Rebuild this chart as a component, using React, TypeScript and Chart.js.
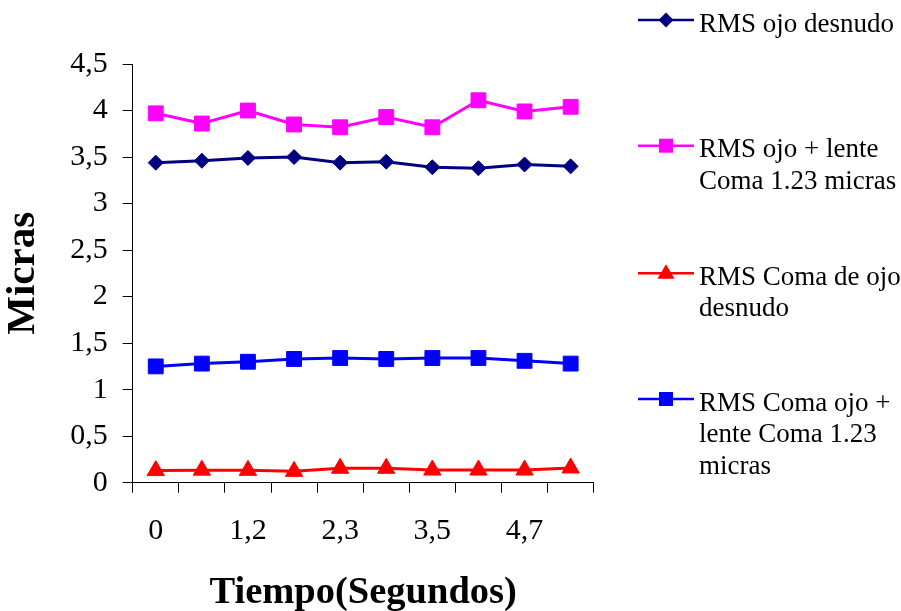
import React, { useEffect, useRef } from "react";
import { Chart, registerables } from "chart.js";

Chart.register(...registerables);

const categories = ["0", "0,6", "1,2", "1,8", "2,3", "2,9", "3,5", "4,1", "4,7", "5,3"];
const rmsOjoDesnudo = [3.44, 3.46, 3.49, 3.5, 3.44, 3.45, 3.39, 3.38, 3.42, 3.4];
const rmsOjoLente = [3.97, 3.86, 4.0, 3.85, 3.82, 3.93, 3.82, 4.11, 3.99, 4.04];
const rmsComaOjoDesnudo = [0.13, 0.135, 0.133, 0.122, 0.155, 0.155, 0.136, 0.136, 0.136, 0.158];
const rmsComaOjoLente = [1.25, 1.28, 1.3, 1.33, 1.34, 1.33, 1.34, 1.34, 1.31, 1.28];
const seriesLabels = [
  "RMS ojo desnudo",
  "RMS ojo + lente Coma 1.23 micras",
  "RMS Coma de ojo desnudo",
  "RMS Coma ojo + lente Coma 1.23 micras",
];
const legendLines = [
  ["RMS ojo desnudo"],
  ["RMS ojo + lente", "Coma 1.23 micras"],
  ["RMS Coma de ojo", "desnudo"],
  ["RMS Coma ojo +", "lente Coma 1.23", "micras"],
];
const yTitle = "Micras";
const xTitle = "Tiempo(Segundos)";

const FONT = '"Liberation Serif", "Times New Roman", serif';

const legendPlugin = {
  id: "customLegend",
  afterDraw(chart: any) {
    const ctx = chart.ctx as CanvasRenderingContext2D;
    const ys = [20, 145.7, 273.3, 399];
    const x0 = 638;
    const x1 = 694;
    const mx = 666;
    chart.data.datasets.forEach((ds: any, i: number) => {
      const y = ys[i];
      const color = ds.borderColor;
      ctx.save();
      ctx.strokeStyle = color;
      ctx.fillStyle = color;
      ctx.lineWidth = 2.5;
      ctx.beginPath();
      ctx.moveTo(x0, y);
      ctx.lineTo(x1, y);
      ctx.stroke();
      ctx.beginPath();
      if (ds.pointStyle === "rectRot") {
        const r = 7.5;
        ctx.moveTo(mx - r, y);
        ctx.lineTo(mx, y - r);
        ctx.lineTo(mx + r, y);
        ctx.lineTo(mx, y + r);
        ctx.closePath();
      } else if (ds.pointStyle === "triangle") {
        const r = 9;
        ctx.moveTo(mx, y - r);
        ctx.lineTo(mx + r * 0.95, y + r * 0.6);
        ctx.lineTo(mx - r * 0.95, y + r * 0.6);
        ctx.closePath();
      } else {
        const s = 7;
        ctx.rect(mx - s, y - s, 2 * s, 2 * s);
      }
      ctx.fill();
      ctx.fillStyle = "#000";
      ctx.font = `27px ${FONT}`;
      ctx.textAlign = "left";
      ctx.textBaseline = "alphabetic";
      legendLines[i].forEach((line, k) => {
        ctx.fillText(line, 699, y + 11.5 + k * 31.5);
      });
      ctx.restore();
    });
  },
};

export default function App() {
  const ref = useRef<HTMLCanvasElement>(null);
  useEffect(() => {
    if (!ref.current) return;
    const common = {
      borderWidth: 3,
      pointBorderWidth: 1,
      tension: 0,
      fill: false,
    };
    const chart = new Chart(ref.current, {
      type: "line",
      data: {
        labels: categories,
        datasets: [
          {
            ...common,
            label: seriesLabels[0],
            data: rmsOjoDesnudo,
            borderColor: "#000080",
            backgroundColor: "#000080",
            pointBackgroundColor: "#000080",
            pointStyle: "rectRot",
            pointRadius: 7.5,
          },
          {
            ...common,
            label: seriesLabels[1],
            data: rmsOjoLente,
            borderColor: "#FF00FF",
            backgroundColor: "#FF00FF",
            pointBackgroundColor: "#FF00FF",
            pointStyle: "rect",
            pointRadius: 10.5,
          },
          {
            ...common,
            label: seriesLabels[2],
            data: rmsComaOjoDesnudo,
            borderColor: "#FF0000",
            backgroundColor: "#FF0000",
            pointBackgroundColor: "#FF0000",
            pointStyle: "triangle",
            pointRadius: 10,
          },
          {
            ...common,
            label: seriesLabels[3],
            data: rmsComaOjoLente,
            borderColor: "#0000FF",
            backgroundColor: "#0000FF",
            pointBackgroundColor: "#0000FF",
            pointStyle: "rect",
            pointRadius: 10.5,
          },
        ],
      },
      options: {
        responsive: false,
        animation: false,
        layout: { padding: { top: 64, right: 307.3, bottom: 0, left: 0 } },
        plugins: {
          legend: { display: false },
          tooltip: { enabled: false },
          title: { display: false },
        },
        scales: {
          x: {
            type: "category",
            offset: true,
            grid: {
              offset: true,
              drawOnChartArea: false,
              drawTicks: true,
              tickLength: 10,
              color: "#000",
              lineWidth: 1,
            },
            border: { display: true, color: "#000", width: 1 },
            ticks: {
              autoSkip: false,
              maxRotation: 0,
              minRotation: 0,
              padding: 20,
              color: "#000",
              font: { family: FONT, size: 30 },
              callback: (_v: any, idx: number) => (idx % 2 === 0 ? categories[idx] : ""),
            },
            title: {
              display: true,
              text: xTitle,
              color: "#000",
              font: { family: FONT, size: 38.5, weight: "bold", lineHeight: 0.95 },
              padding: 0,
            },
            afterFit: (scale: any) => {
              scale.height = 128.3;
            },
          },
          y: {
            min: 0,
            max: 4.5,
            grid: {
              drawOnChartArea: false,
              drawTicks: true,
              tickLength: 10,
              color: "#000",
              lineWidth: 1,
            },
            border: { display: true, color: "#000", width: 1 },
            ticks: {
              stepSize: 0.5,
              padding: 15,
              color: "#000",
              font: { family: FONT, size: 30 },
              callback: (v: any) => String(v).replace(".", ","),
            },
            title: {
              display: true,
              text: yTitle,
              color: "#000",
              font: { family: FONT, size: 41, weight: "bold", lineHeight: 1.15 },
              padding: 0,
            },
            afterFit: (scale: any) => {
              scale.width = 132.7;
            },
          },
        },
      },
      plugins: [legendPlugin],
    } as any);
    return () => chart.destroy();
  }, []);
  return (
    <div style={{ position: "absolute", left: 0, top: 0, width: 901, height: 611, background: "#fff" }}>
      <canvas ref={ref} width={901} height={611} style={{ display: "block" }} />
    </div>
  );
}
